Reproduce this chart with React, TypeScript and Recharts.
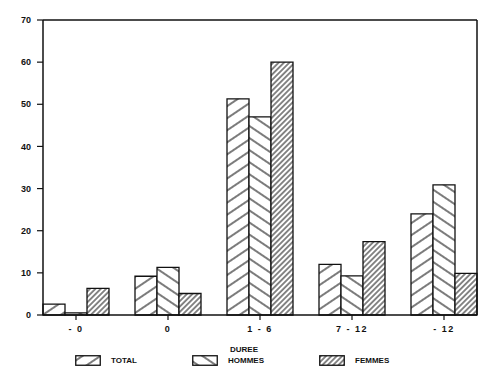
import { BarChart, Bar, XAxis, YAxis, Legend, ReferenceLine } from 'recharts'

const categories = ['- 0', '0', '1 - 6', '7 - 12', '- 12']
const total = [2.6, 9.2, 51.3, 12, 24]
const hommes = [0.5, 11.3, 47, 9.3, 30.9]
const femmes = [6.3, 5.1, 60, 17.4, 9.9]
const yTicks = [0, 10, 20, 30, 40, 50, 60, 70]

const data = categories.map((c, i) => ({
  duree: c,
  total: total[i],
  hommes: hommes[i],
  femmes: femmes[i],
}))

const font = '"Liberation Sans", Arial, sans-serif'
const ink = '#111'

function Hatch({ id, gap, angle, w = 1.1 }: { id: string; gap: number; angle: number; w?: number }) {
  return (
    <pattern
      id={id}
      width={gap}
      height={gap}
      patternUnits="userSpaceOnUse"
      patternTransform={`rotate(${angle})`}
    >
      <rect width={gap} height={gap} fill="#fff" />
      <line x1={0} y1={gap / 2} x2={gap} y2={gap / 2} stroke={ink} strokeWidth={w} />
    </pattern>
  )
}

const legendItems = [
  { label: 'TOTAL', fill: 'url(#hTotal)', left: 75 },
  { label: 'HOMMES', fill: 'url(#hHommes)', left: 192 },
  { label: 'FEMMES', fill: 'url(#hFemmes)', left: 319 },
]

function LegendBox() {
  return (
    <div style={{ position: 'relative', width: 496, height: 36, fontFamily: font, fontWeight: 700, fontSize: 8, color: ink }}>
      <div style={{ position: 'absolute', left: 230, top: 0 }}>DUREE</div>
      {legendItems.map((it) => (
        <div key={it.label} style={{ position: 'absolute', left: it.left, top: 10, display: 'flex', alignItems: 'center' }}>
          <svg width={26} height={11}>
            <rect x={0.75} y={0.75} width={24.5} height={9.5} fill={it.fill} stroke={ink} strokeWidth={1.3} />
          </svg>
          <span style={{ marginLeft: 10 }}>{it.label}</span>
        </div>
      ))}
    </div>
  )
}

export default function App() {
  return (
    <div style={{ margin: -8, background: '#fff', width: 496, height: 381 }}>
      <BarChart
        width={496}
        height={381}
        data={data}
        margin={{ top: 20, right: 18, bottom: 0, left: 0 }}
        barGap={0}
        barCategoryGap={13}
      >
        <defs>
          <Hatch id="hTotal" gap={10} angle={-34} />
          <Hatch id="hHommes" gap={10} angle={34} />
          <Hatch id="hFemmes" gap={3.8} angle={-45} w={1} />
        </defs>
        <XAxis
          dataKey="duree"
          height={30}
          padding={{ left: -13, right: -13 }}
          axisLine={{ stroke: ink, strokeWidth: 1.5 }}
          tickLine={{ stroke: ink, strokeWidth: 1.2 }}
          tickSize={5}
          tickMargin={6}
          tick={{ fill: ink, fontSize: 9, fontWeight: 700, fontFamily: font, letterSpacing: 1.5 }}
        />
        <YAxis
          width={43}
          domain={[0, 70]}
          ticks={yTicks}
          interval={0}
          axisLine={{ stroke: ink, strokeWidth: 1.5 }}
          tickLine={{ stroke: ink, strokeWidth: 1.2 }}
          tickSize={6}
          tickMargin={6}
          tick={{ fill: ink, fontSize: 9, fontWeight: 700, fontFamily: font }}
        />
        <YAxis
          yAxisId="r"
          orientation="right"
          width={1}
          domain={[0, 70]}
          tick={false}
          tickLine={false}
          axisLine={{ stroke: ink, strokeWidth: 1.5 }}
        />
        <ReferenceLine y={70} stroke={ink} strokeWidth={1.5} />
        <Legend verticalAlign="bottom" height={36} wrapperStyle={{ left: 0, width: 496 }} content={() => <LegendBox />} />
        <Bar dataKey="total" name="TOTAL" fill="url(#hTotal)" stroke={ink} strokeWidth={1.3} isAnimationActive={false} />
        <Bar dataKey="hommes" name="HOMMES" fill="url(#hHommes)" stroke={ink} strokeWidth={1.3} isAnimationActive={false} />
        <Bar dataKey="femmes" name="FEMMES" fill="url(#hFemmes)" stroke={ink} strokeWidth={1.3} isAnimationActive={false} />
      </BarChart>
    </div>
  )
}
